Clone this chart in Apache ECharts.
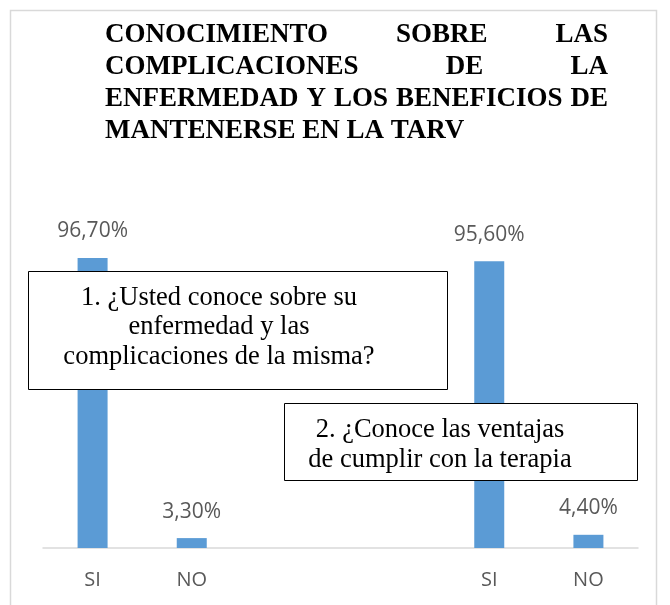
<!doctype html>
<html>
<head>
<meta charset="utf-8">
<title>Conocimiento TARV</title>
<script src="https://cdn.jsdelivr.net/npm/echarts@6/dist/echarts.min.js"></script>
<style>
    html, body{ margin: 0; padding: 0; background: #fff; }
    #chartBox{ width: 670px; height: 605px; }
</style>
</head>
<body>
<div id="chartBox"></div>
<script>
    // datos
    var categories = ['SI', 'NO', '', '', 'SI', 'NO'];
    var values = [96.7, 3.3, null, null, 95.6, 4.4];
    var titleLines = [
        'CONOCIMIENTO SOBRE LAS',
        'COMPLICACIONES DE LA',
        'ENFERMEDAD Y LOS BENEFICIOS DE',
        'MANTENERSE EN LA TARV'
    ];
    var box1Lines = ['1. ¿Usted conoce sobre su', 'enfermedad y las', 'complicaciones de la misma?'];
    var box2Lines = ['2. ¿Conoce las ventajas', 'de cumplir con la terapia'];

    // titulo justificado (medir palabras)
    var titleFont = 'bold 27px "Liberation Serif"';
    var ctx = document.createElement('canvas').getContext('2d');
    ctx.font = titleFont;
    var tLeft = 105, tRight = 608, tTop = 36, tStep = 31.7;
    var graphics = [];
    titleLines.forEach(function(line, i){
        var words = line.split(' ');
        var y = tTop + i * tStep;
        var last = i == titleLines.length - 1;
        var widths = words.map(function(w){ return ctx.measureText(w).width; });
        var total = widths.reduce(function(a, b){ return a + b; }, 0);
        var gap = last ? ctx.measureText(' ').width : (tRight - tLeft - total) / (words.length - 1);
        var x = tLeft;
        words.forEach(function(w, j){
            graphics.push({
                type: 'text', left: x, top: y - 14, z: 100,
                style: { text: w, font: titleFont, fill: '#000' }
            });
            x += widths[j] + gap;
        });
    });

    // cuadros de texto
    function textBox(x, y, w, h, lines, cx, cy, step){
        graphics.push({
            type: 'rect', z: 100,
            shape: { x: x, y: y, width: w, height: h },
            style: { fill: '#fff', stroke: '#000', lineWidth: 1 }
        });
        lines.forEach(function(t, i){
            graphics.push({
                type: 'text', z: 101, x: cx, y: cy + i * step,
                style: { text: t, font: '26.5px "Liberation Serif"', fill: '#000',
                    align: 'center', verticalAlign: 'middle' }
            });
        });
    }
    textBox(28.5, 271.5, 419, 118, box1Lines, 219, 298, 29.5);
    textBox(284.5, 403.5, 353, 77, box2Lines, 440, 430, 30);

    // marco
    graphics.push({
        type: 'rect', z: 0,
        shape: { x: 10.5, y: 10.5, width: 646, height: 620 },
        style: { fill: 'none', stroke: '#D9D9D9', lineWidth: 1.5 }
    });

    var myChart = echarts.init(document.getElementById('chartBox'));
    var option = {
        animation: false,
        grid: { left: 43, right: 32, top: 248, bottom: 57 },
        xAxis: {
            type: 'category',
            data: categories,
            axisTick: { show: false },
            axisLine: { lineStyle: { color: '#D9D9D9', width: 1.5 } },
            axisLabel: { color: '#595959', fontSize: 20, fontFamily: 'Open Sans', margin: 22 }
        },
        yAxis: {
            type: 'value', min: 0, max: 100,
            show: false
        },
        series: [{
            type: 'bar',
            data: values,
            barWidth: 30,
            itemStyle: { color: '#5B9BD5' },
            label: {
                show: true,
                position: 'top',
                distance: 16,
                color: '#595959',
                fontSize: 21,
                fontFamily: 'Open Sans',
                formatter: function(p){
                    return p.value.toFixed(2).replace('.', ',') + '%';
                }
            }
        }],
        graphic: graphics
    };
    myChart.setOption(option);
</script>
</body>
</html>
